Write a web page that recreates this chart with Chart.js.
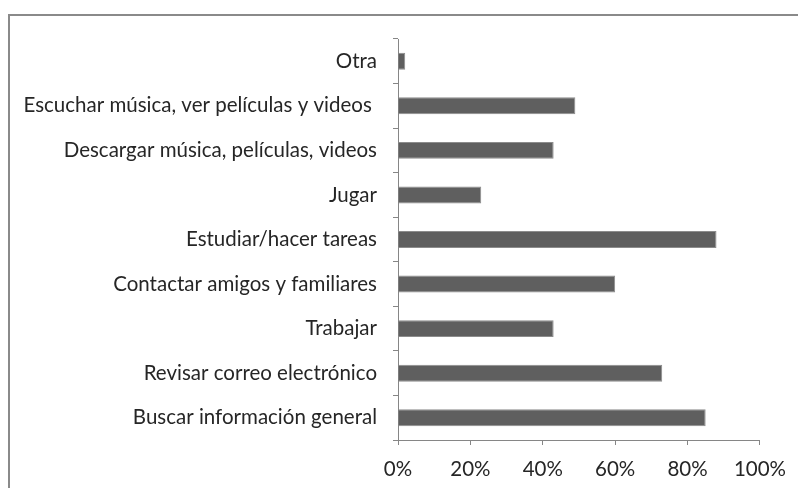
<!DOCTYPE html>
<html>
<head>
<meta charset="utf-8">
<script src="https://cdn.jsdelivr.net/npm/chart.js"></script>
<style>
  html, body { margin: 0; padding: 0; background: #fff; overflow: hidden; }
  #wrap { position: relative; width: 798px; height: 488px; }
  #frame { position: absolute; left: 8px; top: 14px; width: 820px; height: 520px; border: 2px solid #8a8a8a; box-sizing: border-box; }
  canvas { position: absolute; left: 0; top: 0; }
</style>
</head>
<body>
<div id="wrap">
  <div id="frame"></div>
  <canvas id="chart" width="798" height="488"></canvas>
</div>
<script>
// data, top to bottom as shown
const categories = [
  'Otra',
  'Escuchar música, ver películas y videos ',
  'Descargar música, películas, videos',
  'Jugar',
  'Estudiar/hacer tareas',
  'Contactar amigos y familiares',
  'Trabajar',
  'Revisar correo electrónico',
  'Buscar información general'
];
const values = [2, 49, 43, 23, 88, 60, 43, 73, 85];
const xTicks = [0, 20, 40, 60, 80, 100];

const axisGray = '#868686';
const font = { family: 'Lato', size: 20.5 };

new Chart(document.getElementById('chart'), {
  type: 'bar',
  data: {
    labels: categories,
    datasets: [{
      data: values,
      backgroundColor: '#5f5f5f',
      borderColor: '#8c8c8c',
      borderWidth: 1,
      borderSkipped: 'left',
      categoryPercentage: 1,
      barPercentage: 0.38
    }]
  },
  options: {
    indexAxis: 'y',
    responsive: false,
    animation: false,
    layout: { padding: { top: 39, right: 37, left: 0, bottom: 0 } },
    plugins: { legend: { display: false }, tooltip: { enabled: false } },
    scales: {
      x: {
        min: 0,
        max: 100,
        afterBuildTicks: axis => { axis.ticks = xTicks.map(v => ({ value: v })); },
        afterFit: axis => { axis.height = 48; },
        ticks: { color: '#262626', font: font, padding: 12, callback: v => v + '%' },
        grid: { drawOnChartArea: false, drawTicks: true, tickLength: 5, color: axisGray },
        border: { color: axisGray, width: 1 }
      },
      y: {
        afterFit: axis => { axis.width = 398; },
        ticks: { color: '#262626', font: font, padding: 16 },
        grid: { drawOnChartArea: false, drawTicks: true, tickLength: 5, offset: true, color: axisGray },
        border: { color: axisGray, width: 1 }
      }
    }
  }
});
</script>
</body>
</html>
